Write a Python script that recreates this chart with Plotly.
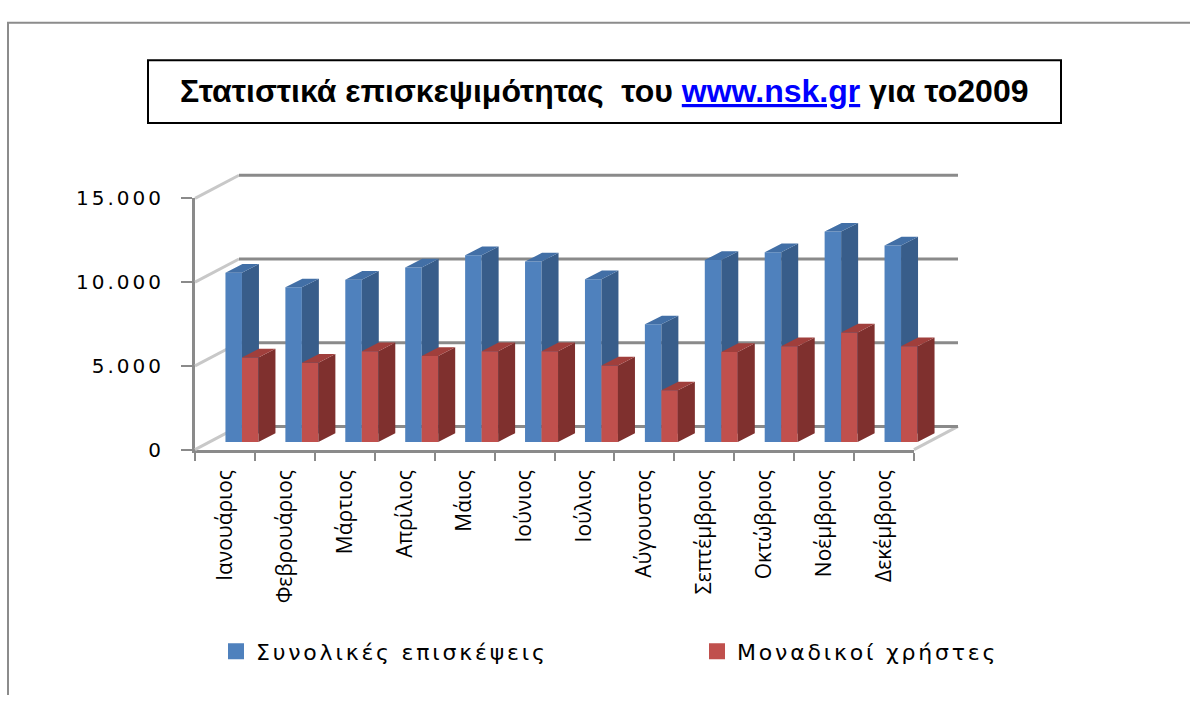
import plotly.graph_objects as go

# ---------------- data ----------------
months = ["Ιανουάριος", "Φεβρουάριος", "Μάρτιος", "Απρίλιος", "Μάιος", "Ιούνιος",
          "Ιούλιος", "Αύγουστος", "Σεπτέμβριος", "Οκτώβριος", "Νοέμβριος", "Δεκέμβριος"]
total_visits = [10100, 9230, 9680, 10420, 11150, 10770, 9710, 7020, 10860, 11330, 12560, 11730]
unique_users = [5040, 4730, 5420, 5130, 5420, 5420, 4560, 3080, 5370, 5710, 6540, 5710]
series_names = ["Συνολικές επισκέψεις", "Μοναδικοί χρήστες"]
y_ticks = [0, 5000, 10000, 15000]

# ---------------- layout geometry (pixels) ----------------
W, H = 1190, 707
def fx(px): return px / W
def fy(py): return 1 - py / H

N = len(months)
VMAX = 15000
FX0, FX1 = 195, 914      # front plane x extent
FY0, FY1 = 453, 193      # front plane: value 0 / value VMAX
ppx = (FX1 - FX0) / N
ppy = (FY0 - FY1) / VMAX

# hidden "3D space" axes with the same scale as the front plane
BX0, BX1, BY0, BY1 = 150, 1000, 480, 140
xr_big = [-0.5 - (FX0 - BX0) / ppx, N - 0.5 + (BX1 - FX1) / ppx]
yr_big = [-(BY0 - FY0) / ppy, VMAX + (FY1 - BY1) / ppy]

WX, WY = 44 / ppx, 24 / ppy          # back wall depth
BPX, BPY = 17 / ppx, 8 / ppy         # bar plane depth
DX, DY = 17 / ppx, 9 / ppy           # bar own depth
BW = 16.5 / ppx                      # bar width

colors = {
    0: dict(front="#4f81bd", side="#385d8a", top="#426fa6"),
    1: dict(front="#c0504d", side="#7f302e", top="#a03f3c"),
}

def spaced(text, px):
    return "<span style='letter-spacing:%.1fpx'>%s</span>" % (px, text)

def dotted(v):
    return "{:,}".format(v).replace(",", ".")

fig = go.Figure()

# carrier for the front category axis
fig.add_trace(go.Scatter(x=months, y=[0] * N, mode="markers", marker=dict(opacity=0),
                         showlegend=False, hoverinfo="skip", xaxis="x", yaxis="y"))

# back wall gridlines and side-wall / floor diagonals
gx, gy, dxs, dys = [], [], [], []
for v in y_ticks:
    gx += [-0.5 + WX, N - 0.5 + WX, None]
    gy += [v + WY, v + WY, None]
    dxs += [-0.5, -0.5 + WX, None]
    dys += [v, v + WY, None]
dxs += [N - 0.5, N - 0.5 + WX, None]
dys += [0, WY, None]
fig.add_trace(go.Scatter(x=dxs, y=dys, mode="lines", line=dict(color="#c8c8c8", width=3),
                         showlegend=False, hoverinfo="skip", xaxis="x2", yaxis="y2"))
fig.add_trace(go.Scatter(x=gx, y=gy, mode="lines", line=dict(color="#8a8a8a", width=3),
                         showlegend=False, hoverinfo="skip", xaxis="x2", yaxis="y2"))

# bars: each series in its own overlay subplot so the red columns sit over the blue sides
for s, (vals, axn) in enumerate([(total_visits, "3"), (unique_users, "4")]):
    c = colors[s]
    xc = [i + BPX for i in range(N)]
    off = -BW if s == 0 else 0.0
    fig.add_trace(go.Bar(x=xc, y=vals, base=[BPY] * N, width=BW, offset=off,
                         marker=dict(color=c["front"], line=dict(width=0)),
                         showlegend=False, hoverinfo="skip",
                         xaxis="x" + axn, yaxis="y" + axn))
    sx, sy, tx, ty = [], [], [], []
    for i, v in enumerate(vals):
        xl = xc[i] + off
        xr = xl + BW
        sx += [xr, xr + DX, xr + DX, xr, xr, None]
        sy += [BPY, BPY + DY, BPY + v + DY, BPY + v, BPY, None]
        tx += [xl, xr, xr + DX, xl + DX, xl, None]
        ty += [BPY + v, BPY + v, BPY + v + DY, BPY + v + DY, BPY + v, None]
    fig.add_trace(go.Scatter(x=sx, y=sy, mode="lines", fill="toself", fillcolor=c["side"],
                             line=dict(width=0, color=c["side"]), showlegend=False,
                             hoverinfo="skip", xaxis="x" + axn, yaxis="y" + axn))
    fig.add_trace(go.Scatter(x=tx, y=ty, mode="lines", fill="toself", fillcolor=c["top"],
                             line=dict(width=0, color=c["top"]), showlegend=False,
                             hoverinfo="skip", xaxis="x" + axn, yaxis="y" + axn))

# legend entries
for s, name in enumerate(series_names):
    fig.add_trace(go.Scatter(x=[None], y=[None], mode="markers", name=spaced(name, 2.8),
                             marker=dict(symbol="square", size=17, color=colors[s]["front"]),
                             xaxis="x2", yaxis="y2"))

hidden = dict(visible=False, showgrid=False, zeroline=False, fixedrange=True)
gray = "#8a8a8a"
fig.update_layout(
    width=W, height=H,
    margin=dict(l=0, r=0, t=0, b=0),
    paper_bgcolor="white", plot_bgcolor="rgba(0,0,0,0)",
    barmode="overlay",
    showlegend=True,
    xaxis=dict(domain=[fx(FX0), fx(FX1)], type="category", categoryarray=months,
               range=[-0.5, N - 0.5], anchor="y", showgrid=False, zeroline=False,
               showline=True, linecolor=gray, linewidth=3,
               ticks="outside", tickson="boundaries", ticklen=8, tickwidth=2, tickcolor=gray,
               tickangle=-90, ticklabelstandoff=9,
               tickfont=dict(family="Open Sans", size=21, color="black")),
    yaxis=dict(domain=[fy(FY0), fy(FY1)], range=[0, VMAX], anchor="x",
               tickvals=y_ticks, ticktext=[spaced(dotted(v), 3) for v in y_ticks],
               showgrid=False, zeroline=False,
               showline=True, linecolor=gray, linewidth=3,
               ticks="outside", ticklen=11, tickwidth=2, tickcolor=gray,
               ticklabelstandoff=13,
               tickfont=dict(family="DejaVu Sans", size=20, color="black")),
    xaxis2=dict(domain=[fx(BX0), fx(BX1)], range=xr_big, anchor="y2", **hidden),
    yaxis2=dict(domain=[fy(BY0), fy(BY1)], range=yr_big, anchor="x2", **hidden),
    xaxis3=dict(overlaying="x2", range=xr_big, anchor="y3", **hidden),
    yaxis3=dict(overlaying="y2", range=yr_big, anchor="x3", **hidden),
    xaxis4=dict(overlaying="x2", range=xr_big, anchor="y4", **hidden),
    yaxis4=dict(overlaying="y2", range=yr_big, anchor="x4", **hidden),
    legend=dict(orientation="h", x=fx(216), y=fy(662), xanchor="left", yanchor="middle",
                font=dict(family="DejaVu Sans", size=22, color="black"),
                entrywidth=436, entrywidthmode="pixels", bgcolor="rgba(0,0,0,0)",
                itemsizing="trace"),
    shapes=[
        dict(type="path", xref="paper", yref="paper",
             path="M %.5f,0 L %.5f,%.5f L 1,%.5f" % (fx(8), fx(8), fy(11), fy(11)),
             line=dict(color="#8c8c8c", width=2), layer="below"),
        dict(type="rect", xref="paper", yref="paper", x0=fx(148), x1=fx(1061), y0=fy(115), y1=fy(50),
             line=dict(color="black", width=2)),
    ],
    annotations=[
        dict(xref="paper", yref="paper", x=fx(604), y=fy(82), xanchor="center", yanchor="middle",
             showarrow=False,
             text="<b>Στατιστικά επισκεψιμότητας  του "
                  "<span style='color:#0000ff'><u>www.nsk.gr</u></span> για το2009</b>",
             font=dict(family="Liberation Sans, Arial", size=32, color="black")),
    ],
)

fig.write_html("out.html",
               post_script="document.body.style.margin='0';document.body.style.padding='0';")
